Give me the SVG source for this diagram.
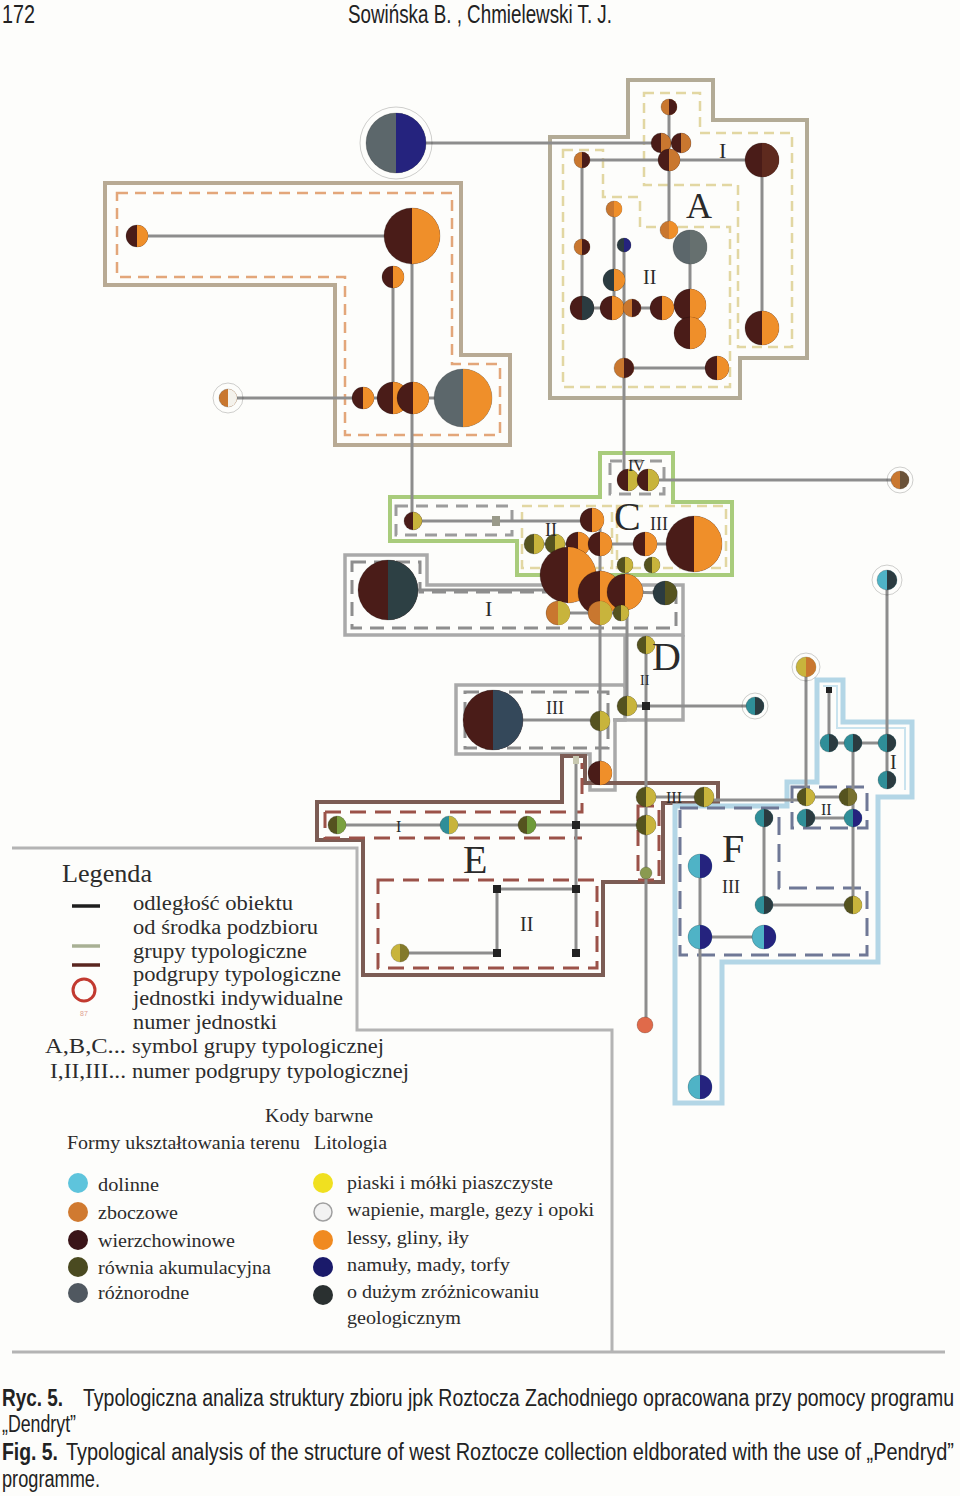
<svg xmlns="http://www.w3.org/2000/svg" width="960" height="1496" viewBox="0 0 960 1496">
<style>
.node circle{stroke:#00000030;stroke-width:1}
.w{fill:#4a1c18}.o{fill:#ef8f2a}.z{fill:#c9772f}.g{fill:#5c676b}.n{fill:#25237e}.y{fill:#c8b43c}.r{fill:#55531f}.d{fill:#4fb3c6}.k{fill:#2b3b40}.t{fill:#2f8e98}.s{fill:#222}.wh{fill:#f4f2ec}.q{fill:#e06a4a}
.c{stroke:#8d8d8d;stroke-width:3;fill:none}
.ring{fill:none;stroke:#d0604c;stroke-width:3}
.lab{font-family:"Liberation Serif","Times New Roman",serif;fill:#2a2a2a}
.leg{font-family:"Liberation Serif","Times New Roman",serif;fill:#2c2c2c;font-size:20px}
.cap{font-family:"Liberation Sans Narrow","Liberation Sans",Arial,sans-serif;fill:#222;font-size:19.5px}
.hd{font-family:"Liberation Sans Narrow","Liberation Sans",Arial,sans-serif;fill:#222;font-size:22px}
.ob{fill:none;stroke:#b8aa94;stroke-width:4}
.db{fill:none;stroke:#e3a67a;stroke-width:2.5;stroke-dasharray:11 7}
.oa{fill:none;stroke:#b3ab96;stroke-width:4}
.da{fill:none;stroke:#e2d7a2;stroke-width:2.5;stroke-dasharray:10 6}
.oc{fill:none;stroke:#a9cc7c;stroke-width:4}
.dc{fill:none;stroke:#9c9c9c;stroke-width:3;stroke-dasharray:12 8}
.og{fill:none;stroke:#a9a9a9;stroke-width:3.5}
.dg{fill:none;stroke:#8e8e8e;stroke-width:3;stroke-dasharray:14 8}
.oe{fill:none;stroke:#7c5c54;stroke-width:4}
.de{fill:none;stroke:#9b5249;stroke-width:3;stroke-dasharray:16 9}
.of{fill:none;stroke:#b3d6e6;stroke-width:5}
.df{fill:none;stroke:#6f7896;stroke-width:3;stroke-dasharray:18 9}
.lb{fill:none;stroke:#b4b4b4;stroke-width:3}
</style>
<rect width="960" height="1496" fill="#fdfdfb"/>

<!-- header -->
<text class="hd" transform="translate(2,23) scale(1,1.2)" textLength="33" lengthAdjust="spacingAndGlyphs">172</text>
<text class="hd" transform="translate(348,23) scale(1,1.2)" textLength="264" lengthAdjust="spacingAndGlyphs">Sowińska B. , Chmielewski T. J.</text>

<!-- group outlines -->
<g id="groups">
  <g id="groupB">
    <polygon class="ob" points="105,183 461,183 461,355 510,355 510,445 335,445 335,285 105,285"/>
    <polygon class="db" points="117,193 452,193 452,364 500,364 500,435 345,435 345,277 117,277"/>
  </g>
  <g id="groupA">
    <polygon class="oa" points="628,80 713,80 713,120 807,120 807,358 740,358 740,398 550,398 550,137 628,137"/>
    <polygon class="da" points="644,93 700,93 700,133 792,133 792,347 738,347 738,185 644,185"/>
    <polygon class="da" points="563,150 603,150 603,197 640,197 640,227 730,227 730,387 563,387"/>
  </g>
  <g id="groupC">
    <polygon class="oc" points="600,453 673,453 673,502 732,502 732,575 517,575 517,541 390,541 390,497 600,497"/>
    <rect class="dc" x="610" y="461" width="54" height="33" stroke="#a0ac8c"/>
    <rect class="dc" x="396" y="506" width="116" height="29"/>
    <rect class="da" x="522" y="506" width="90" height="62"/>
    <rect class="da" x="617" y="506" width="109" height="62"/>
  </g>
  <g id="groupD">
    <polygon class="og" points="345,555 427,555 427,585 683,585 683,635 345,635"/>
    <polygon class="dg" points="352,562 420,562 420,592 676,592 676,628 352,628" stroke="#b8b8b8"/>
    <polyline class="og" points="625,635 625,688"/>
    <polyline class="og" points="683,635 683,720 613,720"/>
    <polygon class="og" points="456,685 625,685 625,720 615,720 615,790 590,790 590,754 456,754"/>
    <rect class="dg" x="465" y="692" width="143" height="56"/>
  </g>
  <g id="groupE">
    <polygon class="oe" points="317,802 562,802 562,756 585,756 585,783 718,783 718,803 663,803 663,882 603,882 603,975 363,975 363,840 317,840"/>
    <polyline class="de" points="325,812 582,812 582,763"/>
    <polyline class="de" points="325,812 325,838 582,838"/>
    <polygon class="de" points="378,880 597,880 597,968 378,968"/>
    <rect class="de" x="638" y="806" width="21" height="74"/>
  </g>
  <g id="groupF">
    <polygon class="of" points="817,680 843,680 843,722 912,722 912,797 878,797 878,962 722,962 722,1103 675,1103 675,806 787,806 787,782 817,782"/>
    <polyline fill="none" stroke="#c9e3ee" stroke-width="2" points="823,686 837,686 837,728 905,728 905,790"/>
    <polygon class="df" points="680,808 779,808 779,888 867,888 867,955 680,955"/>
    <rect class="df" x="792" y="787" width="75" height="41"/>
  </g>
</g>

<!-- connectors -->
<g id="connectors">
  <line class="c" x1="426" y1="143" x2="680" y2="143"/>
  <line class="c" x1="137" y1="236" x2="412" y2="236"/>
  <line class="c" x1="412" y1="236" x2="412" y2="521"/>
  <line class="c" x1="393" y1="277" x2="393" y2="398"/>
  <line class="c" x1="228" y1="398" x2="463" y2="398"/>
  <line class="c" x1="582" y1="160" x2="762" y2="160"/>
  <line class="c" x1="669" y1="107" x2="669" y2="230"/>
  <line class="c" x1="582" y1="160" x2="582" y2="308"/>
  <line class="c" x1="614" y1="209" x2="614" y2="308"/>
  <line class="c" x1="762" y1="160" x2="762" y2="328"/>
  <line class="c" x1="690" y1="247" x2="690" y2="333"/>
  <line class="c" x1="582" y1="308" x2="690" y2="308"/>
  <line class="c" x1="624" y1="245" x2="624" y2="470"/>
  <line class="c" x1="624" y1="368" x2="717" y2="368"/>
  <line class="c" x1="648" y1="480" x2="900" y2="480"/>
  <line class="c" x1="413" y1="521" x2="592" y2="521"/>
  <line class="c" x1="534" y1="544" x2="694" y2="544"/>
  <line class="c" x1="600" y1="520" x2="600" y2="773"/>
  <line class="c" x1="627" y1="565" x2="627" y2="706"/>
  <line class="c" x1="388" y1="590" x2="560" y2="590"/>
  <line class="c" x1="558" y1="613" x2="625" y2="613"/>
  <line class="c" x1="625" y1="592" x2="665" y2="593"/>
  <line class="c" x1="646" y1="645" x2="646" y2="1025"/>
  <line class="c" x1="627" y1="706" x2="755" y2="706"/>
  <line class="c" x1="493" y1="720" x2="600" y2="720"/>
  <line class="c" x1="337" y1="825" x2="646" y2="825"/>
  <line class="c" x1="576" y1="760" x2="576" y2="953"/>
  <line class="c" x1="497" y1="889" x2="576" y2="889"/>
  <line class="c" x1="497" y1="889" x2="497" y2="953"/>
  <line class="c" x1="400" y1="953" x2="497" y2="953"/>
  <line class="c" x1="646" y1="797" x2="704" y2="797"/>
  <line class="c" x1="704" y1="800" x2="806" y2="800"/>
  <line class="c" x1="829" y1="690" x2="829" y2="743"/>
  <line class="c" x1="829" y1="743" x2="887" y2="743"/>
  <line class="c" x1="887" y1="580" x2="887" y2="780"/>
  <line class="c" x1="853" y1="743" x2="853" y2="905"/>
  <line class="c" x1="806" y1="667" x2="806" y2="797"/>
  <line class="c" x1="806" y1="797" x2="848" y2="797"/>
  <line class="c" x1="806" y1="818" x2="853" y2="818"/>
  <line class="c" x1="764" y1="818" x2="764" y2="905"/>
  <line class="c" x1="764" y1="905" x2="853" y2="905"/>
  <line class="c" x1="700" y1="866" x2="700" y2="1087"/>
  <line class="c" x1="700" y1="937" x2="764" y2="937"/>
</g>

<!-- nodes: group B -->
<g id="ind0" class="node" transform="translate(396,143)"><circle r="36" class="ring"/><circle r="30" class="g"/><path class="n" d="M0-30A30 30 0 0 1 0 30Z"/></g>
<g id="b1" class="node" transform="translate(137,236)"><circle r="11" class="w"/><path class="o" d="M0-11A11 11 0 0 1 0 11Z"/></g>
<g id="b2" class="node" transform="translate(412,236)"><circle r="28" class="w"/><path class="o" d="M0-28A28 28 0 0 1 0 28Z"/></g>
<g id="b3" class="node" transform="translate(393,277)"><circle r="11" class="w"/><path class="o" d="M0-11A11 11 0 0 1 0 11Z"/></g>
<g id="b4" class="node" transform="translate(363,398)"><circle r="11" class="w"/><path class="o" d="M0-11A11 11 0 0 1 0 11Z"/></g>
<g id="b5" class="node" transform="translate(393,398)"><circle r="16" class="w"/><path class="o" d="M0-16A16 16 0 0 1 0 16Z"/></g>
<g id="b6" class="node" transform="translate(413,398)"><circle r="16" class="w"/><path class="o" d="M0-16A16 16 0 0 1 0 16Z"/></g>
<g id="b7" class="node" transform="translate(463,398)"><circle r="29" class="g"/><path class="o" d="M0-29A29 29 0 0 1 0 29Z"/></g>
<g id="ind1" class="node" transform="translate(228,398)"><circle r="15" class="ring"/><circle r="9" class="z"/><path class="wh" d="M0-9A9 9 0 0 1 0 9Z"/></g>

<!-- nodes: group A -->
<g id="a1" class="node" transform="translate(669,107)"><circle r="8" class="z"/><path class="w" d="M0-8A8 8 0 0 1 0 8Z"/></g>
<g id="a2" class="node" transform="translate(661,143)"><circle r="10" class="w"/><path class="z" d="M0-10A10 10 0 0 1 0 10Z"/></g>
<g id="a3" class="node" transform="translate(681,143)"><circle r="10" class="w"/><path class="z" d="M0-10A10 10 0 0 1 0 10Z"/></g>
<g id="a4" class="node" transform="translate(669,160)"><circle r="11" class="w"/><path class="z" d="M0-11A11 11 0 0 1 0 11Z"/></g>
<g id="a5" class="node" transform="translate(762,160)"><circle r="17" class="w"/><path fill="#5e2a1e" d="M0-17A17 17 0 0 1 0 17Z"/></g>
<g id="a6" class="node" transform="translate(582,160)"><circle r="8" class="z"/><path class="w" d="M0-8A8 8 0 0 1 0 8Z"/></g>
<g id="a7" class="node" transform="translate(669,230)"><circle r="9" class="z"/><path class="o" d="M0-9A9 9 0 0 1 0 9Z"/></g>
<g id="a8" class="node" transform="translate(614,209)"><circle r="8" class="z"/><path class="o" d="M0-8A8 8 0 0 1 0 8Z"/></g>
<g id="a9" class="node" transform="translate(624,245)"><circle r="7" class="k"/><path class="n" d="M0-7A7 7 0 0 1 0 7Z"/></g>
<g id="a10" class="node" transform="translate(690,247)"><circle r="17" class="g"/><path fill="#66706f" d="M0-17A17 17 0 0 1 0 17Z"/></g>
<g id="a11" class="node" transform="translate(582,247)"><circle r="8" class="z"/><path class="w" d="M0-8A8 8 0 0 1 0 8Z"/></g>
<g id="a12" class="node" transform="translate(614,280)"><circle r="11" class="k"/><path class="o" d="M0-11A11 11 0 0 1 0 11Z"/></g>
<g id="a13" class="node" transform="translate(582,308)"><circle r="12" class="w"/><path class="k" d="M0-12A12 12 0 0 1 0 12Z"/></g>
<g id="a14" class="node" transform="translate(612,308)"><circle r="12" class="w"/><path class="o" d="M0-12A12 12 0 0 1 0 12Z"/></g>
<g id="a15" class="node" transform="translate(632,308)"><circle r="9" class="z"/><path class="w" d="M0-9A9 9 0 0 1 0 9Z"/></g>
<g id="a16" class="node" transform="translate(662,308)"><circle r="12" class="w"/><path class="o" d="M0-12A12 12 0 0 1 0 12Z"/></g>
<g id="a17" class="node" transform="translate(690,305)"><circle r="16" class="w"/><path class="o" d="M0-16A16 16 0 0 1 0 16Z"/></g>
<g id="a18" class="node" transform="translate(690,333)"><circle r="16" class="w"/><path class="o" d="M0-16A16 16 0 0 1 0 16Z"/></g>
<g id="a19" class="node" transform="translate(624,368)"><circle r="10" class="z"/><path class="w" d="M0-10A10 10 0 0 1 0 10Z"/></g>
<g id="a20" class="node" transform="translate(717,368)"><circle r="12" class="w"/><path class="o" d="M0-12A12 12 0 0 1 0 12Z"/></g>
<g id="a21" class="node" transform="translate(762,328)"><circle r="17" class="w"/><path class="o" d="M0-17A17 17 0 0 1 0 17Z"/></g>

<!-- nodes: group C and boxes -->
<g id="c1" class="node" transform="translate(413,521)"><circle r="9" class="w"/><path class="y" d="M0-9A9 9 0 0 1 0 9Z"/></g>
<g id="c2" class="node" transform="translate(496,521)"><rect x="-4" y="-5" width="8" height="10" fill="#9a9a8a"/></g>
<g id="c3" class="node" transform="translate(628,480)"><circle r="11" class="w"/><path class="y" d="M0-11A11 11 0 0 1 0 11Z"/></g>
<g id="c4" class="node" transform="translate(648,480)"><circle r="11" class="w"/><path class="y" d="M0-11A11 11 0 0 1 0 11Z"/></g>
<g id="ind2" class="node" transform="translate(900,480)"><circle r="13" class="ring"/><circle r="9" class="z"/><path class="k" d="M0-9A9 9 0 0 1 0 9Z" opacity="0.6"/></g>
<g id="c5" class="node" transform="translate(592,520)"><circle r="12" class="w"/><path class="o" d="M0-12A12 12 0 0 1 0 12Z"/></g>
<g id="c6" class="node" transform="translate(534,544)"><circle r="10" class="r"/><path class="y" d="M0-10A10 10 0 0 1 0 10Z"/></g>
<g id="c7" class="node" transform="translate(555,544)"><circle r="10" class="r"/><path class="y" d="M0-10A10 10 0 0 1 0 10Z"/></g>
<g id="c8" class="node" transform="translate(578,544)"><circle r="12" class="w"/><path class="o" d="M0-12A12 12 0 0 1 0 12Z"/></g>
<g id="c9" class="node" transform="translate(600,544)"><circle r="12" class="w"/><path class="o" d="M0-12A12 12 0 0 1 0 12Z"/></g>
<g id="c10" class="node" transform="translate(645,544)"><circle r="12" class="w"/><path class="o" d="M0-12A12 12 0 0 1 0 12Z"/></g>
<g id="c11" class="node" transform="translate(694,544)"><circle r="28" class="w"/><path class="o" d="M0-28A28 28 0 0 1 0 28Z"/></g>
<g id="c12" class="node" transform="translate(568,575)"><circle r="28" class="w"/><path class="o" d="M0-28A28 28 0 0 1 0 28Z"/></g>
<g id="c13" class="node" transform="translate(625,565)"><circle r="8" class="r"/><path class="y" d="M0-8A8 8 0 0 1 0 8Z"/></g>
<g id="c14" class="node" transform="translate(652,565)"><circle r="8" class="r"/><path class="y" d="M0-8A8 8 0 0 1 0 8Z"/></g>
<g id="c15" class="node" transform="translate(600,593)"><circle r="22" class="w"/><path class="o" d="M0-22A22 22 0 0 1 0 22Z"/></g>
<g id="c16" class="node" transform="translate(625,592)"><circle r="18" class="w"/><path class="o" d="M0-18A18 18 0 0 1 0 18Z"/></g>
<g id="c17" class="node" transform="translate(665,593)"><circle r="12" class="k"/><path class="r" d="M0-12A12 12 0 0 1 0 12Z"/></g>
<g id="c18" class="node" transform="translate(558,613)"><circle r="12" class="z"/><path class="y" d="M0-12A12 12 0 0 1 0 12Z"/></g>
<g id="c19" class="node" transform="translate(600,613)"><circle r="12" class="z"/><path class="y" d="M0-12A12 12 0 0 1 0 12Z"/></g>
<g id="c20" class="node" transform="translate(621,613)"><circle r="8" class="r"/><path class="y" d="M0-8A8 8 0 0 1 0 8Z"/></g>
<g id="i1" class="node" transform="translate(388,590)"><circle r="30" class="w"/><path fill="#2d4044" d="M0-30A30 30 0 0 1 0 30Z"/></g>
<g id="i2" class="node" transform="translate(493,720)"><circle r="30" class="w"/><path fill="#34485a" d="M0-30A30 30 0 0 1 0 30Z"/></g>

<!-- nodes: group D -->
<g id="d1" class="node" transform="translate(646,645)"><circle r="9" class="r"/><path class="y" d="M0-9A9 9 0 0 1 0 9Z"/></g>
<g id="d2" class="node" transform="translate(627,706)"><circle r="10" class="r"/><path class="y" d="M0-10A10 10 0 0 1 0 10Z"/></g>
<g id="d3" class="node" transform="translate(646,706)"><rect x="-4" y="-4" width="8" height="8" class="s"/></g>
<g id="ind3" class="node" transform="translate(755,706)"><circle r="13" class="ring"/><circle r="9" class="t"/><path class="k" d="M0-9A9 9 0 0 1 0 9Z"/></g>
<g id="d4" class="node" transform="translate(600,721)"><circle r="10" class="r"/><path class="y" d="M0-10A10 10 0 0 1 0 10Z"/></g>
<g id="d5" class="node" transform="translate(600,773)"><circle r="12" class="w"/><path class="o" d="M0-12A12 12 0 0 1 0 12Z"/></g>

<!-- nodes: group E -->
<g id="e1" class="node" transform="translate(337,825)"><circle r="9" class="r"/><path fill="#7aa040" d="M0-9A9 9 0 0 1 0 9Z"/></g>
<g id="e2" class="node" transform="translate(449,825)"><circle r="9" class="t"/><path class="y" d="M0-9A9 9 0 0 1 0 9Z"/></g>
<g id="e3" class="node" transform="translate(527,825)"><circle r="9" class="r"/><path fill="#6e9a3a" d="M0-9A9 9 0 0 1 0 9Z"/></g>
<g id="e4" class="node" transform="translate(576,825)"><rect x="-4" y="-4" width="8" height="8" class="s"/></g>
<g id="e5" class="node" transform="translate(646,797)"><circle r="10" class="r"/><path class="y" d="M0-10A10 10 0 0 1 0 10Z"/></g>
<g id="e6" class="node" transform="translate(704,797)"><circle r="10" class="r"/><path class="y" d="M0-10A10 10 0 0 1 0 10Z"/></g>
<g id="e7" class="node" transform="translate(646,825)"><circle r="10" class="r"/><path class="y" d="M0-10A10 10 0 0 1 0 10Z"/></g>
<g id="e8" class="node" transform="translate(646,873)"><circle r="6" fill="#8a9a50"/></g>
<g id="e9" class="node" transform="translate(497,889)"><rect x="-4" y="-4" width="8" height="8" class="s"/></g>
<g id="e10" class="node" transform="translate(576,889)"><rect x="-4" y="-4" width="8" height="8" class="s"/></g>
<g id="e11" class="node" transform="translate(497,953)"><rect x="-4" y="-4" width="8" height="8" class="s"/></g>
<g id="e12" class="node" transform="translate(576,953)"><rect x="-4" y="-4" width="8" height="8" class="s"/></g>
<g id="e13" class="node" transform="translate(400,953)"><circle r="9" class="y"/><path class="r" d="M0-9A9 9 0 0 1 0 9Z" opacity="0.6"/></g>
<g id="e14" class="node" transform="translate(576,760)"><rect x="-3" y="-4" width="6" height="8" fill="#c8c8b0"/></g>
<g id="ind4" class="node" transform="translate(645,1025)"><circle r="8" class="q"/></g>

<!-- nodes: group F -->
<g id="f1" class="node" transform="translate(829,690)"><rect x="-3" y="-3" width="6" height="6" class="s"/></g>
<g id="f2" class="node" transform="translate(829,743)"><circle r="9" class="t"/><path class="k" d="M0-9A9 9 0 0 1 0 9Z"/></g>
<g id="f3" class="node" transform="translate(853,743)"><circle r="9" class="t"/><path class="k" d="M0-9A9 9 0 0 1 0 9Z"/></g>
<g id="f4" class="node" transform="translate(887,743)"><circle r="9" class="t"/><path class="k" d="M0-9A9 9 0 0 1 0 9Z"/></g>
<g id="f5" class="node" transform="translate(887,780)"><circle r="9" class="t"/><path class="k" d="M0-9A9 9 0 0 1 0 9Z"/></g>
<g id="ind5" class="node" transform="translate(887,580)"><circle r="15" class="ring"/><circle r="10" class="d"/><path class="k" d="M0-10A10 10 0 0 1 0 10Z"/></g>
<g id="ind6" class="node" transform="translate(806,667)"><circle r="14" class="ring"/><circle r="10" class="y"/><path class="z" d="M0-10A10 10 0 0 1 0 10Z"/></g>
<g id="f6" class="node" transform="translate(806,797)"><circle r="9" class="r"/><path class="y" d="M0-9A9 9 0 0 1 0 9Z"/></g>
<g id="f7" class="node" transform="translate(848,797)"><circle r="9" class="r"/><path fill="#77702e" d="M0-9A9 9 0 0 1 0 9Z"/></g>
<g id="f8" class="node" transform="translate(806,818)"><circle r="9" class="t"/><path class="k" d="M0-9A9 9 0 0 1 0 9Z"/></g>
<g id="f9" class="node" transform="translate(853,818)"><circle r="9" class="t"/><path class="n" d="M0-9A9 9 0 0 1 0 9Z"/></g>
<g id="f10" class="node" transform="translate(764,818)"><circle r="9" class="t"/><path class="k" d="M0-9A9 9 0 0 1 0 9Z"/></g>
<g id="f11" class="node" transform="translate(700,866)"><circle r="12" class="d"/><path class="n" d="M0-12A12 12 0 0 1 0 12Z"/></g>
<g id="f12" class="node" transform="translate(764,905)"><circle r="9" class="t"/><path class="k" d="M0-9A9 9 0 0 1 0 9Z"/></g>
<g id="f13" class="node" transform="translate(853,905)"><circle r="9" class="r"/><path class="y" d="M0-9A9 9 0 0 1 0 9Z"/></g>
<g id="f14" class="node" transform="translate(700,937)"><circle r="12" class="d"/><path class="n" d="M0-12A12 12 0 0 1 0 12Z"/></g>
<g id="f15" class="node" transform="translate(764,937)"><circle r="12" class="d"/><path class="n" d="M0-12A12 12 0 0 1 0 12Z"/></g>
<g id="f16" class="node" transform="translate(700,1087)"><circle r="12" class="d"/><path class="n" d="M0-12A12 12 0 0 1 0 12Z"/></g>

<!-- group labels -->
<g id="labels" class="lab">
  <text x="686" y="218" font-size="36">A</text>
  <text x="719" y="158" font-size="22">I</text>
  <text x="643" y="284" font-size="20">II</text>
  <text x="614" y="530" font-size="40">C</text>
  <text x="628" y="471" font-size="16">IV</text>
  <text x="650" y="530" font-size="18">III</text>
  <text x="545" y="536" font-size="18">II</text>
  <text x="485" y="616" font-size="22">I</text>
  <text x="652" y="670" font-size="40">D</text>
  <text x="640" y="685" font-size="14">II</text>
  <text x="546" y="714" font-size="18">III</text>
  <text x="463" y="873" font-size="40">E</text>
  <text x="396" y="832" font-size="16">I</text>
  <text x="520" y="931" font-size="20">II</text>
  <text x="666" y="803" font-size="16">III</text>
  <text x="722" y="862" font-size="40">F</text>
  <text x="722" y="893" font-size="18">III</text>
  <text x="821" y="815" font-size="16">II</text>
  <text x="890" y="769" font-size="20">I</text>
</g>

<!-- legend -->
<g id="legend">
  <polyline class="lb" points="12,848 357,848 357,1030 612,1030 612,1352"/>
  <line class="lb" x1="12" y1="1352" x2="945" y2="1352"/>
  <text class="leg" x="62" y="882" style="font-size:25px" textLength="90" lengthAdjust="spacingAndGlyphs">Legenda</text>
  <line x1="72" y1="906" x2="100" y2="906" stroke="#1e1e1e" stroke-width="3.5"/>
  <line x1="72" y1="946" x2="100" y2="946" stroke="#a8b094" stroke-width="3.5"/>
  <line x1="72" y1="965" x2="100" y2="965" stroke="#5a2620" stroke-width="3.5"/>
  <circle cx="84" cy="990" r="11" fill="none" stroke="#c23a30" stroke-width="3"/>
  <text x="84" y="1016" font-family="Liberation Sans,sans-serif" font-size="7" fill="#e0a090" text-anchor="middle">87</text>
  <text class="leg" x="133" y="910" textLength="160" lengthAdjust="spacingAndGlyphs">odległość obiektu</text>
  <text class="leg" x="133" y="934" textLength="185" lengthAdjust="spacingAndGlyphs">od środka podzbioru</text>
  <text class="leg" x="133" y="958" textLength="174" lengthAdjust="spacingAndGlyphs">grupy typologiczne</text>
  <text class="leg" x="133" y="981" textLength="208" lengthAdjust="spacingAndGlyphs">podgrupy typologiczne</text>
  <text class="leg" x="133" y="1005" textLength="210" lengthAdjust="spacingAndGlyphs">jednostki indywidualne</text>
  <text class="leg" x="133" y="1029" textLength="144" lengthAdjust="spacingAndGlyphs">numer jednostki</text>
  <text class="leg" x="45" y="1053" textLength="81" lengthAdjust="spacingAndGlyphs">A,B,C...</text>
  <text class="leg" x="132" y="1053" textLength="252" lengthAdjust="spacingAndGlyphs">symbol grupy typologicznej</text>
  <text class="leg" x="50" y="1078" textLength="76" lengthAdjust="spacingAndGlyphs">I,II,III...</text>
  <text class="leg" x="132" y="1078" textLength="277" lengthAdjust="spacingAndGlyphs">numer podgrupy typologicznej</text>
  <text class="leg" x="265" y="1122" style="font-size:18px" textLength="108" lengthAdjust="spacingAndGlyphs">Kody barwne</text>
  <text class="leg" x="67" y="1149" style="font-size:18px" textLength="233" lengthAdjust="spacingAndGlyphs">Formy ukształtowania terenu</text>
  <text class="leg" x="314" y="1149" style="font-size:18px" textLength="73" lengthAdjust="spacingAndGlyphs">Litologia</text>
  <circle cx="78" cy="1183" r="10" fill="#5ec4dc"/>
  <circle cx="78" cy="1212" r="10" fill="#d07a30"/>
  <circle cx="78" cy="1240" r="10" fill="#3a1418"/>
  <circle cx="78" cy="1267" r="10" fill="#4a4a20"/>
  <circle cx="78" cy="1293" r="10" fill="#505860"/>
  <text class="leg" x="98" y="1191" style="font-size:18px" textLength="61" lengthAdjust="spacingAndGlyphs">dolinne</text>
  <text class="leg" x="98" y="1219" style="font-size:18px" textLength="80" lengthAdjust="spacingAndGlyphs">zboczowe</text>
  <text class="leg" x="98" y="1247" style="font-size:18px" textLength="137" lengthAdjust="spacingAndGlyphs">wierzchowinowe</text>
  <text class="leg" x="98" y="1274" style="font-size:18px" textLength="173" lengthAdjust="spacingAndGlyphs">równia akumulacyjna</text>
  <text class="leg" x="98" y="1299" style="font-size:18px" textLength="91" lengthAdjust="spacingAndGlyphs">różnorodne</text>
  <circle cx="323" cy="1183" r="10" fill="#f0e020"/>
  <circle cx="323" cy="1212" r="9" fill="#f2f2f2" stroke="#a0a0a0" stroke-width="1.5"/>
  <circle cx="323" cy="1240" r="10" fill="#f08a20"/>
  <circle cx="323" cy="1267" r="10" fill="#1a1a6a"/>
  <circle cx="323" cy="1295" r="10" fill="#2a3030"/>
  <text class="leg" x="347" y="1189" style="font-size:18px" textLength="206" lengthAdjust="spacingAndGlyphs">piaski i mółki piaszczyste</text>
  <text class="leg" x="347" y="1216" style="font-size:18px" textLength="247" lengthAdjust="spacingAndGlyphs">wapienie, margle, gezy i opoki</text>
  <text class="leg" x="347" y="1244" style="font-size:18px" textLength="122" lengthAdjust="spacingAndGlyphs">lessy, gliny, iły</text>
  <text class="leg" x="347" y="1271" style="font-size:18px" textLength="163" lengthAdjust="spacingAndGlyphs">namuły, mady, torfy</text>
  <text class="leg" x="347" y="1298" style="font-size:18px" textLength="192" lengthAdjust="spacingAndGlyphs">o dużym zróżnicowaniu</text>
  <text class="leg" x="347" y="1324" style="font-size:18px" textLength="114" lengthAdjust="spacingAndGlyphs">geologicznym</text>
</g>

<!-- caption -->
<g id="caption">
  <text class="cap" transform="translate(2,1406) scale(1,1.18)" font-weight="bold" textLength="61" lengthAdjust="spacingAndGlyphs">Ryc. 5.</text>
  <text class="cap" transform="translate(83,1406) scale(1,1.18)" textLength="871" lengthAdjust="spacingAndGlyphs">Typologiczna analiza struktury zbioru jpk Roztocza Zachodniego opracowana przy pomocy programu</text>
  <text class="cap" transform="translate(2,1432) scale(1,1.18)" textLength="74" lengthAdjust="spacingAndGlyphs">„Dendryt”</text>
  <text class="cap" transform="translate(2,1460) scale(1,1.18)" font-weight="bold" textLength="56" lengthAdjust="spacingAndGlyphs">Fig. 5.</text>
  <text class="cap" transform="translate(66,1460) scale(1,1.18)" textLength="888" lengthAdjust="spacingAndGlyphs">Typological analysis of the structure of west Roztocze collection eldborated with the use of „Pendryd”</text>
  <text class="cap" transform="translate(2,1487) scale(1,1.18)" textLength="98" lengthAdjust="spacingAndGlyphs">programme.</text>
</g>
</svg>
